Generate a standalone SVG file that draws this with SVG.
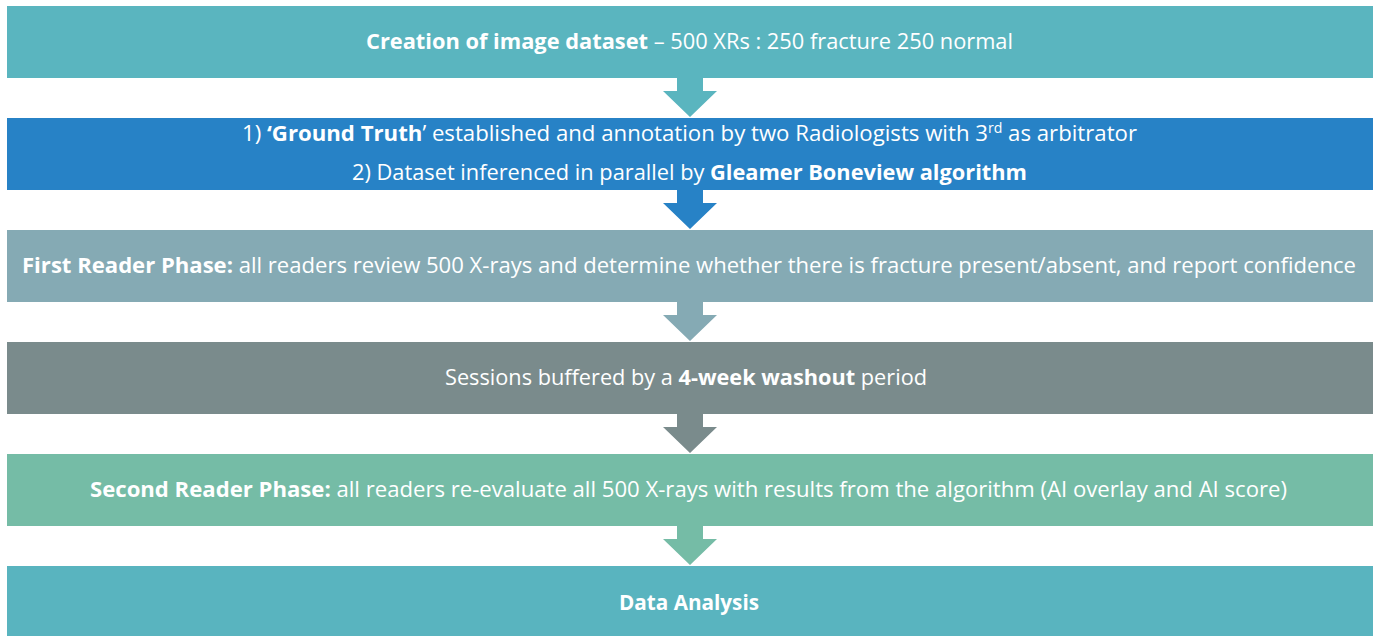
<svg xmlns="http://www.w3.org/2000/svg" width="1376" height="636" viewBox="0 0 1376 636">
<style>
  text { font-family: "Open Sans", "Liberation Sans", sans-serif; font-size: 22px; fill: #ffffff; }
  .b { font-weight: bold; }
  .c1 { fill: #5AB5BF; }
  .c2 { fill: #2782C6; }
  .c3 { fill: #85AAB4; }
  .c4 { fill: #7A8B8C; }
  .c5 { fill: #75BCA6; }
  .c6 { fill: #59B4BF; }
</style>
<rect width="1376" height="636" fill="#ffffff"/>
<g id="connectors">
  <polygon class="c1" points="677,78 703,78 703,91 717,91 690,117 663,91 677,91"/>
  <polygon class="c2" points="677,190 703,190 703,203 717,203 690,229 663,203 677,203"/>
  <polygon class="c3" points="677,302 703,302 703,315 717,315 690,341 663,315 677,315"/>
  <polygon class="c4" points="677,414 703,414 703,427 717,427 690,453 663,427 677,427"/>
  <polygon class="c5" points="677,526 703,526 703,539 717,539 690,565 663,539 677,539"/>
</g>
<g id="node1">
  <rect class="c1" x="7" y="6" width="1366" height="72"/>
  <text x="366" y="49" textLength="647" lengthAdjust="spacingAndGlyphs"><tspan class="b">Creation of image dataset</tspan> – 500 XRs : 250 fracture 250 normal</text>
</g>
<g id="node2">
  <rect class="c2" x="7" y="118" width="1366" height="72"/>
  <text x="242" y="141" textLength="895" lengthAdjust="spacingAndGlyphs">1) <tspan class="b">‘Ground Truth</tspan>’ established and annotation by two Radiologists with 3<tspan font-size="14" dy="-8">rd</tspan><tspan dy="8"> as arbitrator</tspan></text>
  <text x="352" y="180" textLength="675" lengthAdjust="spacingAndGlyphs">2) Dataset inferenced in parallel by <tspan class="b">Gleamer Boneview algorithm</tspan></text>
</g>
<g id="node3">
  <rect class="c3" x="7" y="230" width="1366" height="72"/>
  <text x="22" y="273" textLength="1334" lengthAdjust="spacingAndGlyphs"><tspan class="b">First Reader Phase:</tspan> all readers review 500 X-rays and determine whether there is fracture present/absent, and report confidence</text>
</g>
<g id="node4">
  <rect class="c4" x="7" y="342" width="1366" height="72"/>
  <text x="445" y="385" textLength="482" lengthAdjust="spacingAndGlyphs">Sessions buffered by a <tspan class="b">4-week washout</tspan> period</text>
</g>
<g id="node5">
  <rect class="c5" x="7" y="454" width="1366" height="72"/>
  <text x="90" y="497" textLength="1197" lengthAdjust="spacingAndGlyphs"><tspan class="b">Second Reader Phase:</tspan> all readers re-evaluate all 500 X-rays with results from the algorithm (AI overlay and AI score)</text>
</g>
<g id="node6">
  <rect class="c6" x="7" y="566" width="1366" height="72"/>
  <text class="b" x="619" y="610" textLength="140" lengthAdjust="spacingAndGlyphs">Data Analysis</text>
</g>
</svg>
